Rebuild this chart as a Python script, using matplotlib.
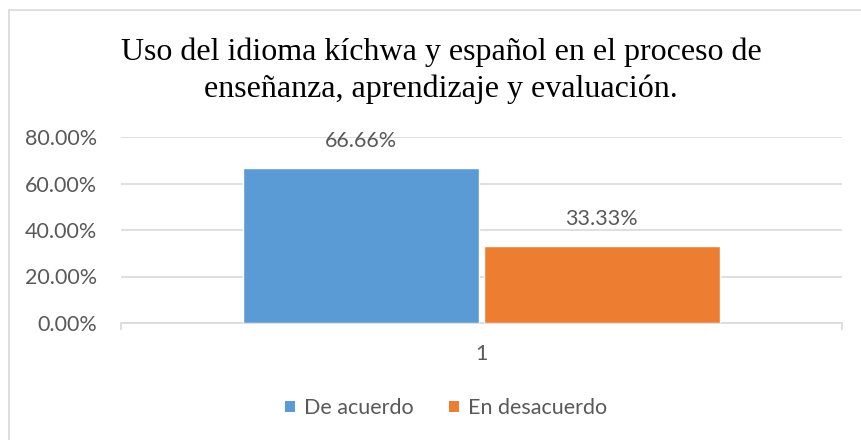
import matplotlib
matplotlib.use("Agg")
import matplotlib.pyplot as plt
from matplotlib.patches import Patch, Rectangle
from matplotlib.ticker import FuncFormatter

title_lines = ["Uso del idioma kíchwa y español en el proceso de",
               "enseñanza, aprendizaje y evaluación."]
series = ["De acuerdo", "En desacuerdo"]
values = [0.6666, 0.3333]
labels = ["66.66%", "33.33%"]
colors = ["#5B9BD5", "#ED7D31"]
category = "1"
yticks = [0.0, 0.2, 0.4, 0.6, 0.8]

W, H = 861, 440
fig = plt.figure(figsize=(W / 100, H / 100), dpi=100)
fig.patch.set_facecolor("white")

# outer chart border
fig.patches.append(Rectangle((9 / W, -0.05), 1.2, 1 - 10 / H + 0.05, transform=fig.transFigure,
                             fill=False, edgecolor="#d9d9d9", lw=1.2))

ax = fig.add_axes([121 / W, 117 / H, (842 - 121) / W, (323 - 137) / H])
font = "Lato"
gray = "#595959"
fs = 15.5

bw = 0.327
offs = [-bw / 2 - 0.0035, bw / 2 + 0.0035]
for i, (v, c, lab) in enumerate(zip(values, colors, labels)):
    ax.bar(1 + offs[i], v, width=bw, color=c, edgecolor="white", lw=1.0, zorder=3)
    ax.annotate(lab, (1 + offs[i], v), xytext=(0, 12), textcoords="offset points",
                ha="center", va="bottom", fontsize=fs, color=gray, family=font)

ax.set_xlim(0.5, 1.5)
ax.set_ylim(0, 0.8)
ax.set_yticks(yticks)
ax.yaxis.set_major_formatter(FuncFormatter(lambda v, p: f"{v*100:.2f}%"))
ax.set_xticks([1])
ax.set_xticklabels([category])
ax.set_xticks([0.5, 1.5], minor=True)
ax.tick_params(axis="x", which="major", length=0, pad=15, labelsize=fs, labelcolor=gray)
ax.tick_params(axis="x", which="minor", length=5, color="#d9d9d9", width=1.2)
ax.tick_params(axis="y", length=0, pad=17, labelsize=fs, labelcolor=gray)
for t in ax.get_xticklabels() + ax.get_yticklabels():
    t.set_family(font)

ax.grid(axis="y", color="#d9d9d9", lw=1.2, zorder=0)
ax.set_axisbelow(True)
for s in ["top", "right", "left"]:
    ax.spines[s].set_visible(False)
ax.spines["bottom"].set_color("#d9d9d9")
ax.spines["bottom"].set_linewidth(1.2)

for line, yb in zip(title_lines, [60, 97]):
    fig.text(441 / W, 1 - yb / H, line, ha="center", va="baseline", family="Liberation Serif",
             fontsize=23, color="black")

handles = [Patch(facecolor=c, edgecolor="none") for c in colors]
fig.legend(handles, series, loc="center", bbox_to_anchor=(446 / W, 1 - 408 / H), ncol=2,
           frameon=False, handlelength=0.45, handleheight=0.45, handletextpad=0.42,
           columnspacing=1.67, borderpad=0, prop={"family": font, "size": fs}, labelcolor=gray)

fig.savefig("out.png", dpi=100, facecolor="white")
